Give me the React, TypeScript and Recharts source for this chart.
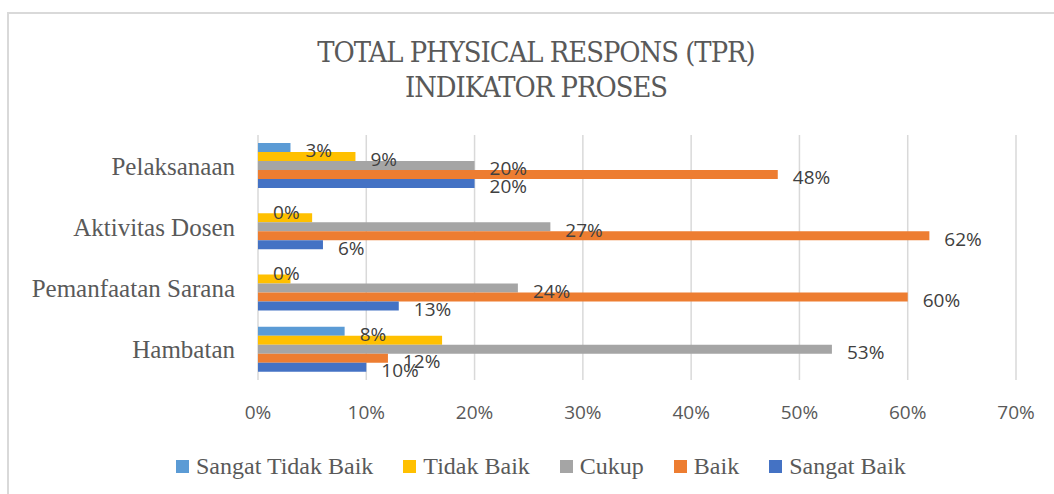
import { BarChart, Bar, XAxis, YAxis, CartesianGrid, LabelList, Legend } from "recharts";

const categories = ["Pelaksanaan", "Aktivitas Dosen", "Pemanfaatan Sarana", "Hambatan"];
const sangatTidakBaik = [3, 0, 0, 8];
const tidakBaik = [9, 5, 3, 17];
const cukup = [20, 27, 24, 53];
const baik = [48, 62, 60, 12];
const sangatBaik = [20, 6, 13, 10];
// in the source only the first yellow bar has a data label
const tidakBaikLabelShown = [true, false, false, false];
const xTicks = [0, 10, 20, 30, 40, 50, 60, 70];

const SERIF = "'Liberation Serif', 'Times New Roman', serif";
const TITLE_FONT = "'DejaVu Serif Condensed', 'DejaVu Serif', serif";
const SANS = "'Open Sans', 'Liberation Sans', sans-serif";

const series = [
  { key: "sangatTidakBaik", label: "sangatTidakBaik", name: "Sangat Tidak Baik", color: "#5B9BD5" },
  { key: "tidakBaik", label: "tidakBaikLabel", name: "Tidak Baik", color: "#FFC000" },
  { key: "cukup", label: "cukup", name: "Cukup", color: "#A5A5A5" },
  { key: "baik", label: "baik", name: "Baik", color: "#ED7D31" },
  { key: "sangatBaik", label: "sangatBaik", name: "Sangat Baik", color: "#4472C4" },
];

const data = categories.map((name, i) => ({
  name,
  sangatTidakBaik: sangatTidakBaik[i],
  tidakBaik: tidakBaik[i],
  tidakBaikLabel: tidakBaikLabelShown[i] ? tidakBaik[i] : null,
  cukup: cukup[i],
  baik: baik[i],
  sangatBaik: sangatBaik[i],
}));

const renderLabel = (p: any) => {
  const vb = p.viewBox ?? p;
  const value = p.value;
  if (value === null || value === undefined) return null;
  const x = Number(vb.x) + Math.max(0, Number(vb.width) || 0);
  const y = Number(vb.y) + Number(vb.height) / 2;
  return (
    <text
      x={x + 15}
      y={y + 3}
      dominantBaseline="central"
      fontFamily={SANS}
      fontSize={19}
      fill="#404040"
    >
      {value}%
    </text>
  );
};

const renderLegend = () => (
  <div
    style={{
      display: "flex",
      alignItems: "center",
      fontFamily: SERIF,
      fontSize: 24,
      lineHeight: "28px",
      color: "#595959",
      whiteSpace: "nowrap",
    }}
  >
    {series.map((s) => (
      <div key={s.key} style={{ display: "flex", alignItems: "center", marginRight: 30 }}>
        <span style={{ display: "inline-block", width: 13, height: 13, background: s.color, marginRight: 7 }} />
        <span>{s.name}</span>
      </div>
    ))}
  </div>
);

export default function App() {
  return (
    <div
      style={{
        position: "absolute",
        left: 0,
        top: 0,
        width: 1054,
        height: 494,
        overflow: "hidden",
        background: "#fff",
      }}
    >
      <div
        style={{
          position: "absolute",
          left: 7,
          top: 12,
          width: 1100,
          height: 600,
          border: "2px solid #d9d9d9",
        }}
      />
      <div
        style={{
          position: "absolute",
          left: 9,
          top: 35,
          width: 1054,
          textAlign: "center",
          fontFamily: TITLE_FONT,
          fontStretch: "condensed",
          fontSize: 28.8,
          lineHeight: "35px",
          letterSpacing: -1,
          color: "#595959",
        }}
      >
        TOTAL PHYSICAL RESPONS (TPR)
        <br />
        INDIKATOR PROSES
      </div>
      <div style={{ position: "absolute", left: 0, top: 0 }}>
        <BarChart
          width={1054}
          height={494}
          data={data}
          layout="vertical"
          margin={{ top: 135, right: 38, left: 0, bottom: 74 }}
          barCategoryGap="13%"
          barGap={0}
        >
          <CartesianGrid horizontal={false} stroke="#d9d9d9" strokeWidth={1.5} />
          <XAxis
            type="number"
            domain={[0, 70]}
            ticks={xTicks}
            tickFormatter={(v) => `${v}%`}
            axisLine={false}
            tickLine={false}
            tickSize={0}
            tickMargin={26}
            height={40}
            tick={{ fontFamily: SANS, fontSize: 19, fill: "#595959" }}
          />
          <YAxis
            type="category"
            dataKey="name"
            width={258}
            axisLine={false}
            tickLine={false}
            tickSize={0}
            tickMargin={23}
            tick={{ fontFamily: SERIF, fontSize: 25, fill: "#595959" }}
          />
          <Legend
            layout="horizontal"
            verticalAlign="middle"
            align="center"
            content={renderLegend}
            wrapperStyle={{ position: "absolute", left: 176, top: 452, width: 900 }}
          />
          {series.map((s) => (
            <Bar
              key={s.key}
              dataKey={s.key}
              name={s.name}
              fill={s.color}
              minPointSize={0.01}
              isAnimationActive={false}
            >
              <LabelList dataKey={s.label} content={renderLabel} />
            </Bar>
          ))}
        </BarChart>
      </div>
    </div>
  );
}
